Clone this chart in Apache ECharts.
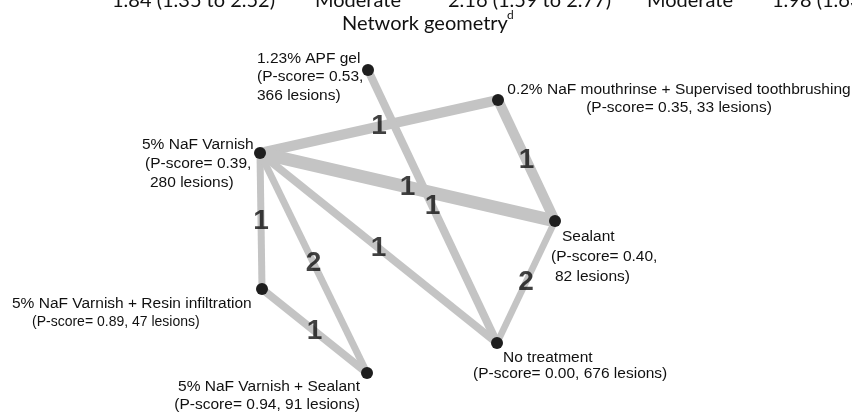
<!DOCTYPE html>
<html><head><meta charset="utf-8">
<script src="https://cdn.jsdelivr.net/npm/echarts@6/dist/echarts.min.js"></script>
<style>html,body{margin:0;padding:0;background:#fff}#c{width:852px;height:415px}</style>
</head><body><div id="c"></div>
<script>
// ---------- data ----------
const nodeNames = ['1.23% APF gel', '0.2% NaF mouthrinse + Supervised toothbrushing', '5% NaF Varnish', 'Sealant',
  '5% NaF Varnish + Resin infiltration', '5% NaF Varnish + Sealant', 'No treatment'];
const pScores = ['0.53', '0.35', '0.39', '0.40', '0.89', '0.94', '0.00'];
const lesions = [366, 33, 280, 82, 47, 91, 676];
// network geometry layout (plot units)
const nodeX = [368, 498, 260, 555, 262, 367, 497];
const nodeY = [70, 100, 153, 221, 289, 373, 343];
// comparisons
const linkFrom = [2, 1, 2, 0, 2, 2, 2, 4, 3];
const linkTo = [1, 3, 3, 6, 6, 4, 5, 5, 6];
const linkStudies = [1, 1, 1, 1, 1, 1, 2, 1, 2];
const linkWeight = [10, 10, 13, 8, 8, 7, 7, 8, 6.5];
// header row (table row above the figure, cut off)
const headerRow = ['1.84 (1.35 to 2.52)', 'Moderate', '2.16 (1.59 to 2.77)', 'Moderate', '1.98 (1.63 to 2.40)'];
const titleText = 'Network geometry';
const titleSup = 'd';

// ---------- layout / style ----------
const headerX = [112, 315, 448, 647, 772];
// label layout per node: offset from node, alignment, line height, per-line indent, line mode
const labelLayout = [
  {dx: -111, dy: -21, align: 'left', lh: 18.5, ind: [0, 0, 0], three: true},
  {dx: 181, dy: -19, align: 'center', lh: 18, ind: [0, 0], three: false},
  {dx: -118, dy: -18, align: 'left', lh: 19, ind: [0, 3, 8], three: true},
  {dx: -4, dy: 6, align: 'left', lh: 20, ind: [11, 0, 4], three: true},
  {dx: -250, dy: 5, align: 'left', lh: 19, ind: [0, 20], three: false, small2: true},
  {dx: -7, dy: 5, align: 'right', lh: 18, ind: [0, 0], three: false},
  {dx: -24, dy: 7, align: 'left', lh: 16, ind: [30, 0], three: false}
];
const FONT = '"Liberation Sans", Arial, sans-serif';

function nodeLines(i) {
  if (labelLayout[i].three) {
    return [nodeNames[i], '(P-score= ' + pScores[i] + ',', lesions[i] + ' lesions)'];
  }
  return [nodeNames[i], '(P-score= ' + pScores[i] + ', ' + lesions[i] + ' lesions)'];
}

const nodes = nodeNames.map((n, i) => {
  const L = labelLayout[i];
  const lines = nodeLines(i);
  const rich = {};
  lines.forEach((t, k) => {
    rich['l' + k] = {
      fontFamily: FONT, fontSize: (L.small2 && k === 1) ? 14 : 15.5, color: '#111',
      lineHeight: L.lh, padding: [0, 0, 0, L.ind[k] || 0]
    };
  });
  return {
    name: n,
    value: [nodeX[i], nodeY[i]],
    label: {
      show: true, position: 'inside', align: L.align, verticalAlign: 'top',
      offset: [L.dx, L.dy],
      formatter: lines.map((t, k) => '{l' + k + '|' + t + '}').join('\n'),
      rich: rich
    }
  };
});

const links = linkFrom.map((s, k) => ({
  source: s, target: linkTo[k],
  lineStyle: {width: linkWeight[k], color: '#c4c4c4', opacity: 1, curveness: 0}
}));

const edgeLabels = linkFrom.map((s, k) => ({
  value: [(nodeX[s] + nodeX[linkTo[k]]) / 2, (nodeY[s] + nodeY[linkTo[k]]) / 2],
  studies: linkStudies[k]
}));

const chart = echarts.init(document.getElementById('c'), null, {renderer: 'canvas'});
chart.setOption({
  backgroundColor: '#ffffff',
  animation: false,
  grid: {left: 0, right: 0, top: 0, bottom: 0},
  xAxis: {type: 'value', min: 0, max: 852, show: false},
  yAxis: {type: 'value', min: 0, max: 415, inverse: true, show: false},
  graphic: [
    ...headerRow.map((t, k) => ({
      type: 'text', left: headerX[k], top: -9, z: 10,
      style: {text: t, font: '20px Lato, "Open Sans", sans-serif', fill: '#111'}
    })),
    {type: 'text', left: 342, top: 14, z: 10,
      style: {text: titleText, font: '20px Lato, "Open Sans", sans-serif', fill: '#111'}},
    {type: 'text', left: 507, top: 9, z: 10,
      style: {text: titleSup, font: '12px Lato, "Open Sans", sans-serif', fill: '#111'}}
  ],
  series: [
    {
      type: 'graph', coordinateSystem: 'cartesian2d', layout: 'none', z: 2,
      symbol: 'circle', symbolSize: 12,
      itemStyle: {color: '#1e1e1e'},
      data: nodes, links: links,
      emphasis: {disabled: true}
    },
    {
      type: 'scatter', z: 3, symbolSize: 0,
      data: edgeLabels,
      label: {
        show: true, position: 'inside',
        formatter: p => String(p.data.studies),
        fontFamily: FONT, fontWeight: 'bold', fontSize: 28, color: '#111'
      },
      emphasis: {disabled: true}
    }
  ]
});
</script></body></html>
